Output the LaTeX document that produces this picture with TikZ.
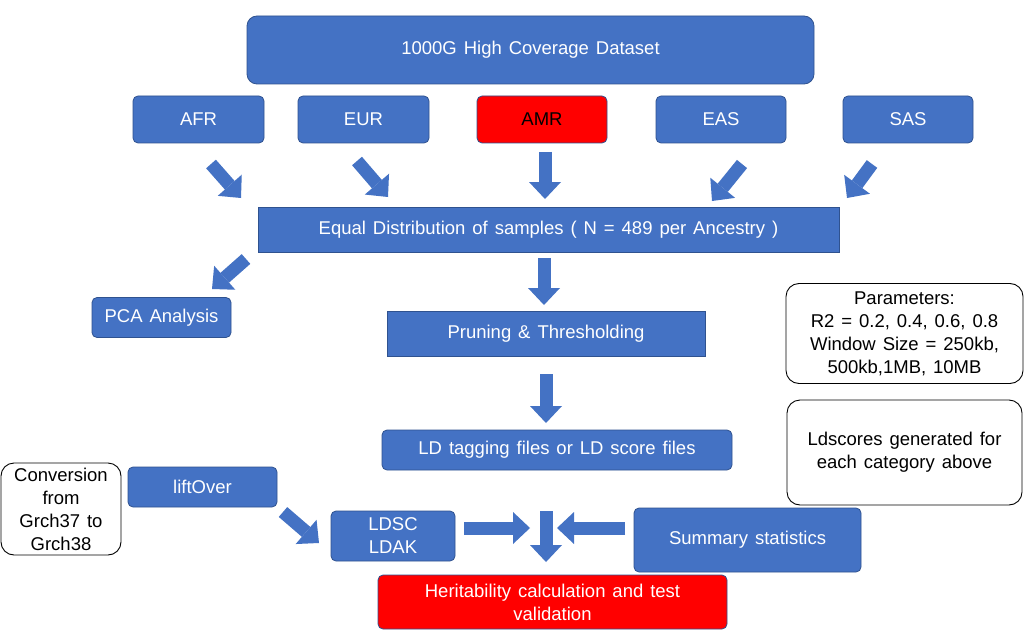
\documentclass[tikz,border=0pt]{standalone}
\usepackage{fontspec}
\setmainfont[WordSpace=1.35]{Liberation Sans}
\usepackage{xcolor}
\usepackage{tikz}
\usetikzlibrary{arrows.meta}
\definecolor{boxblue}{HTML}{4472C4}
\definecolor{edgeblue}{HTML}{2F528F}
\definecolor{hotred}{HTML}{FF0000}

\begin{document}
\begin{tikzpicture}[x=1pt,y=-1pt,font=\fontsize{18.5}{23}\selectfont,
   wh/.style n args={2}{minimum width=#1pt,minimum height=#2pt},
   bx/.style={draw=edgeblue,line width=0.8pt,fill=boxblue,text=white,align=center,inner sep=0pt,rounded corners=5pt},
   sq/.style={bx,sharp corners},
   hot/.style={bx,fill=hotred},
   note/.style={draw=black,line width=0.9pt,fill=white,align=center,inner sep=0pt,rounded corners=13pt},
   barrow/.style={draw=boxblue,line width=13pt,-{Triangle[length=17pt,width=32pt,line width=0pt]}}]
  \path[use as bounding box,fill=white] (0,0) rectangle (1024,639);
  % dataset and ancestries
  \node[bx,wh={567}{68},rounded corners=10pt] (data) at (530.5,50) {1000G High Coverage Dataset};
  \node[bx,wh={131}{47}] (afr) at (198.5,119.5) {AFR};
  \node[bx,wh={131}{47}] (eur) at (363.5,119.5) {EUR};
  \node[hot,wh={130}{47},text=black] (amr) at (542,119.5) {AMR};
  \node[bx,wh={130}{47}] (eas) at (721,119.5) {EAS};
  \node[bx,wh={130}{47}] (sas) at (908,119.5) {SAS};
  % main pipeline
  \node[sq,wh={581}{45}] (equal) at (548.5,229.5) {Equal Distribution of samples ( N = 489 per Ancestry )};
  \node[bx,wh={139}{40}] (pca) at (161.5,317.5) {PCA Analysis};
  \node[sq,wh={318}{45}] (prune) at (546,333.5) {Pruning \& Thresholding};
  \node[note,wh={237}{100}] (param) at (904.5,333.5) {Parameters:\\R2 = 0.2, 0.4, 0.6, 0.8\\Window Size = 250kb,\\500kb,1MB, 10MB};
  \node[bx,wh={350}{40}] (ldfiles) at (557,450) {LD tagging files or LD score files};
  \node[note,wh={235}{105}] (ldscores) at (904.5,452.5) {Ldscores generated for\\each category above};
  % conversion and tools
  \node[note,wh={120}{92}] (conv) at (61,509) {Conversion\\from\\Grch37 to\\Grch38};
  \node[bx,wh={149}{40}] (lift) at (202.5,487) {liftOver};
  \node[bx,wh={124}{50}] (ldsc) at (393,536) {LDSC\\LDAK};
  \node[bx,wh={227}{64}] (sumstat) at (747.5,540) {Summary statistics};
  \node[hot,wh={349}{54}] (herit) at (552.5,602) {Heritability calculation and test\\validation};
  % block arrows
  \foreach \n/\ax/\ay/\bx/\by in {afr/211/164/241/198, eur/357/161/388/197, amr/545/152/545/199,
      eas/742/164/712/201, sas/872/164/847/198, pca/246/259/212/289, prune/544/258/544/305,
      ldfiles/546/374/546/423, lift/283/512/319/543, ldsc/464/528/530/528,
      herit/546/511/546/562, sumstat/625/528/557/528}{
    \coordinate (\n-from) at (\ax,\ay);
    \coordinate (\n-to) at (\bx,\by);
    \draw[barrow] (\n-from) -- (\n-to);
  }
\end{tikzpicture}
\end{document}
